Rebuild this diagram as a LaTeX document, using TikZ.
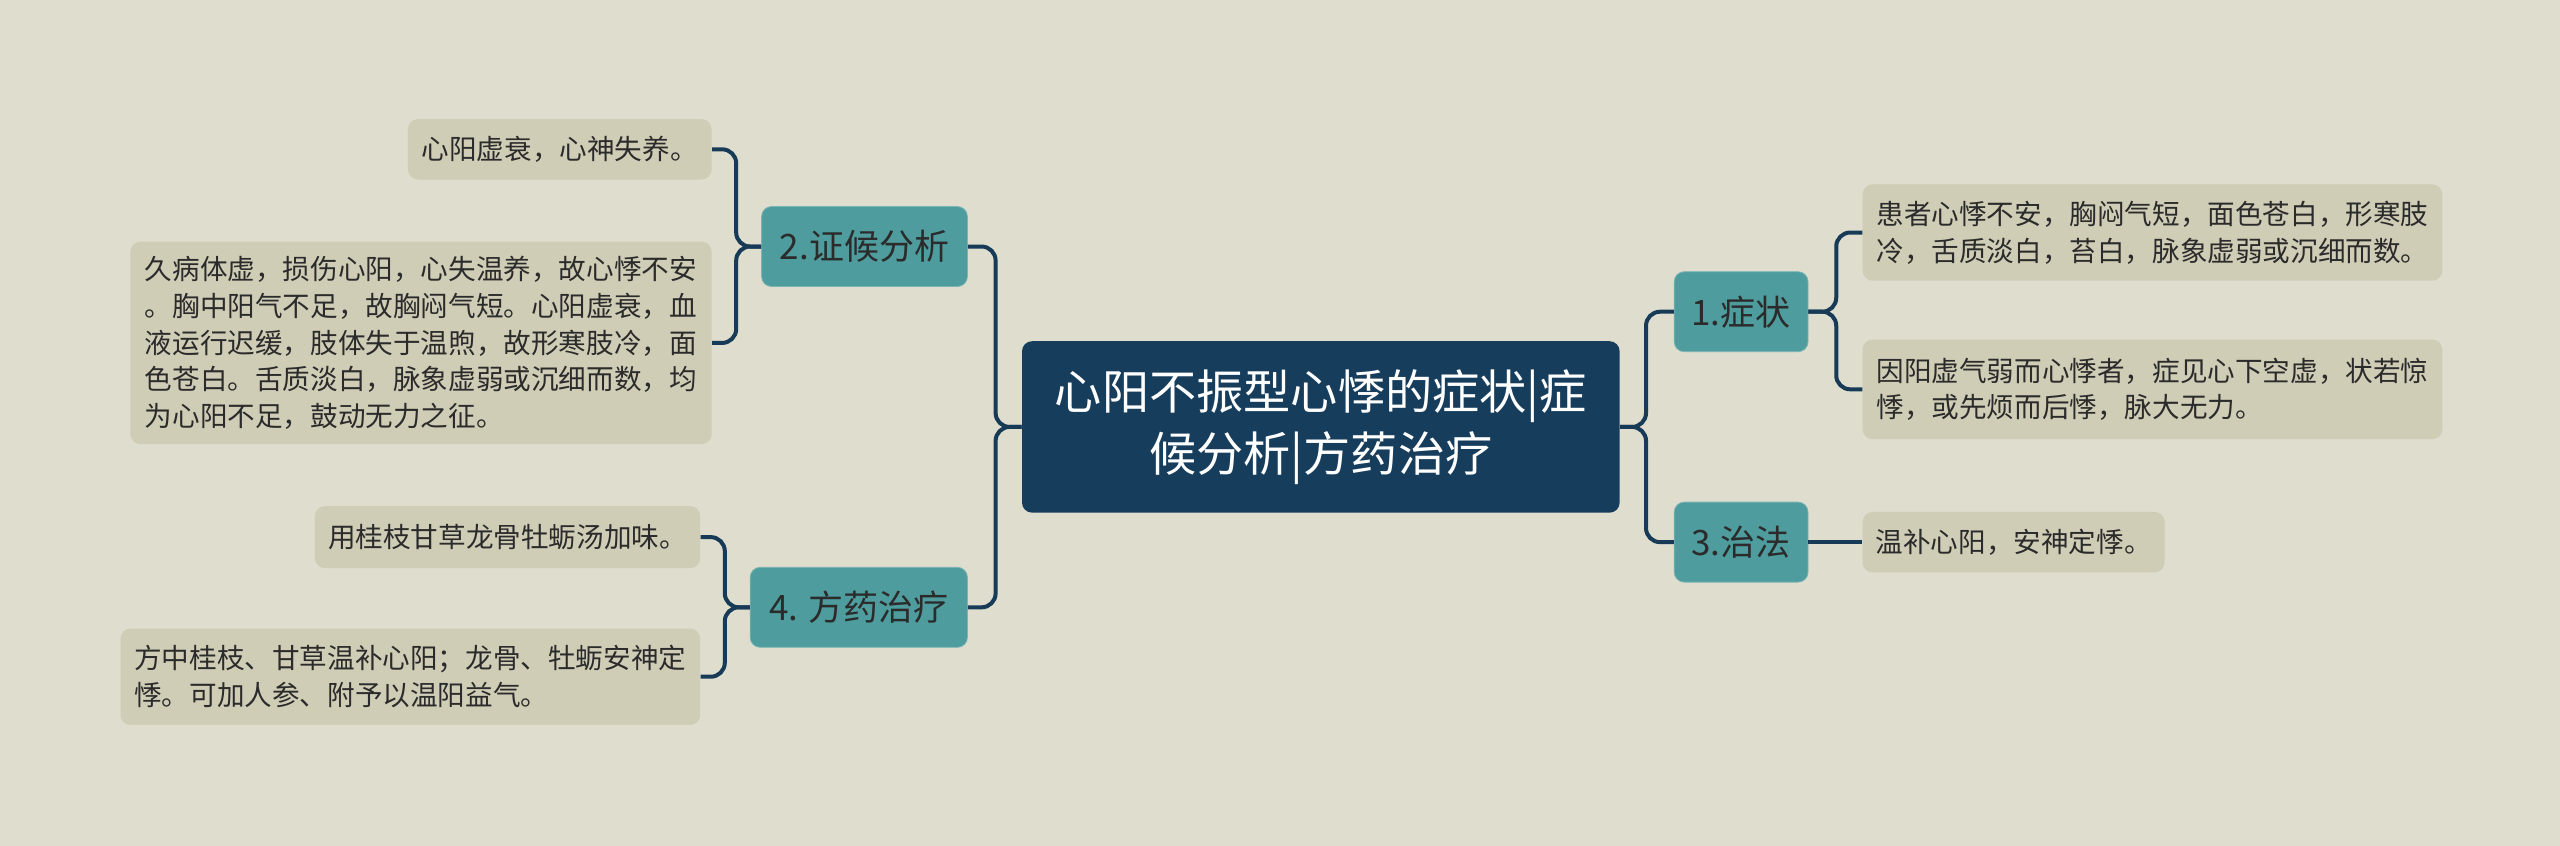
\documentclass[tikz,border=0pt]{standalone}
\usepackage{fontspec}
\setmainfont{Noto Sans CJK SC}
\usepackage{tikz}
\usetikzlibrary{positioning}
\definecolor{paper}{HTML}{DFDDCD}
\definecolor{leaffill}{HTML}{CFCDB6}
\definecolor{tealbox}{HTML}{4E9C9D}
\definecolor{navy}{HTML}{173D5C}
\definecolor{wire}{HTML}{173A57}
\definecolor{ink}{HTML}{2B2B2B}
\tikzset{rootbox/.style={fill=navy,rounded corners=5pt,text=white,align=center,font=\fontsize{23.6pt}{31pt}\selectfont,minimum width=298.8pt,minimum height=85.7pt,inner sep=0pt},branch/.style={fill=tealbox,draw=tealbox!75!white,rounded corners=5pt,text=ink,font=\fontsize{17.5pt}{21pt}\selectfont,minimum height=40pt,inner sep=0pt},leaf/.style={fill=leaffill,rounded corners=5pt,text=ink,align=left,font=\fontsize{13.8pt}{18.4pt}\selectfont,inner xsep=5.8pt,inner ysep=0pt},conn/.style={draw=wire,line width=2pt,rounded corners=7pt}}
\begin{document}
\begin{tikzpicture}[x=0.8163pt,y=0.8163pt]
\fill[paper] (0,0) rectangle (1568,518);
\node[rootbox] (root) at (809,256.5) {心阳不振型心悸的症状|症\\候分析|方药治疗};
% right side
\node[branch,minimum width=66.9pt,right=26.9pt of root,yshift=57.6pt] (sym) {1.症状};
\node[branch,minimum width=66.9pt,right=26.9pt of root,yshift=-57.6pt] (cure) {3.治法};
\node[leaf,minimum width=289.8pt,minimum height=48.2pt,right=26.9pt of sym,yshift=39.6pt] (l1a) {患者心悸不安，胸闷气短，面色苍白，形寒肢\\冷，舌质淡白，苔白，脉象虚弱或沉细而数。};
\node[leaf,minimum width=289.8pt,minimum height=49.8pt,right=26.9pt of sym,yshift=-38.8pt] (l1b) {因阳虚气弱而心悸者，症见心下空虚，状若惊\\悸，或先烦而后悸，脉大无力。};
\node[leaf,minimum width=151pt,minimum height=30.2pt,right=26.9pt of cure] (l3) {温补心阳，安神定悸。};
% left side
\node[branch,minimum width=102.9pt,left=26.9pt of root,yshift=90.2pt] (ana) {2.证候分析};
\node[branch,minimum width=108.6pt,left=26.9pt of root,yshift=-90.2pt] (rx) {4. 方药治疗};
\node[leaf,minimum width=151.8pt,minimum height=30.2pt,left=24.6pt of ana,yshift=48.6pt] (l2a) {心阳虚衰，心神失养。};
\node[leaf,minimum width=290.6pt,minimum height=101.2pt,left=24.6pt of ana,yshift=-48.2pt] (l2b) {久病体虚，损伤心阳，心失温养，故心悸不安\\。胸中阳气不足，故胸闷气短。心阳虚衰，血\\液运行迟缓，肢体失于温煦，故形寒肢冷，面\\色苍白。舌质淡白，脉象虚弱或沉细而数，均\\为心阳不足，鼓动无力之征。};
\node[leaf,minimum width=192.6pt,minimum height=31pt,left=24.6pt of rx,yshift=35.1pt] (l4a) {用桂枝甘草龙骨牡蛎汤加味。};
\node[leaf,minimum width=289.8pt,minimum height=48.2pt,left=24.6pt of rx,yshift=-34.7pt] (l4b) {方中桂枝、甘草温补心阳；龙骨、牡蛎安神定\\悸。可加人参、附予以温阳益气。};
% connectors
\draw[conn] (root.east) -- ++(13pt,0) |- (sym);
\draw[conn] (root.east) -- ++(13pt,0) |- (cure);
\draw[conn] (root.west) -- ++(-13pt,0) |- (ana);
\draw[conn] (root.west) -- ++(-13pt,0) |- (rx);
\draw[conn] (sym.east) -- ++(13.9pt,0) |- (l1a);
\draw[conn] (sym.east) -- ++(13.9pt,0) |- (l1b);
\draw[conn] (cure) -- (l3);
\draw[conn] (ana.west) -- ++(-12.5pt,0) |- (l2a);
\draw[conn] (ana.west) -- ++(-12.5pt,0) |- (l2b);
\draw[conn] (rx.west) -- ++(-12.5pt,0) |- (l4a);
\draw[conn] (rx.west) -- ++(-12.5pt,0) |- (l4b);
\end{tikzpicture}
\end{document}
